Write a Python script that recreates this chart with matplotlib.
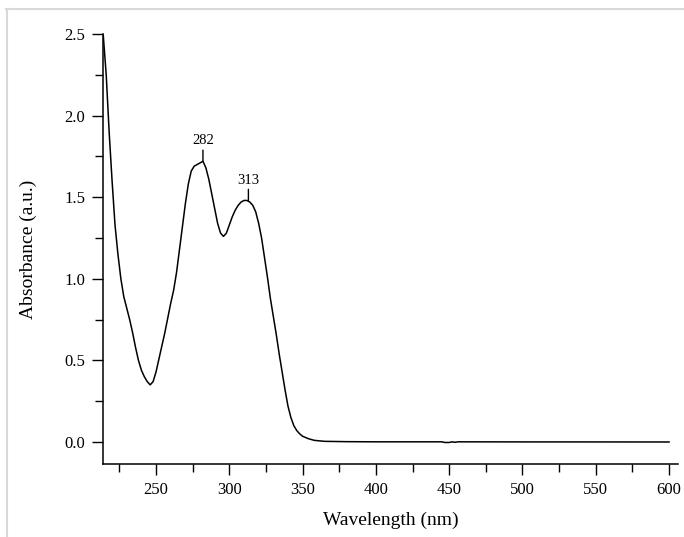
import matplotlib
matplotlib.use("Agg")
import matplotlib.pyplot as plt
from matplotlib.ticker import MultipleLocator, FormatStrFormatter
from matplotlib.lines import Line2D

wavelength = [214, 216, 218, 220, 222, 224, 226, 228, 230, 232, 234, 236, 238, 240,
              242, 244, 246, 248, 250, 252, 254, 256, 258, 260, 262, 264, 266, 268,
              270, 272, 274, 276, 278, 280, 282, 284, 286, 288, 290, 292, 294, 296,
              298, 300, 302, 304, 306, 308, 310, 312, 314, 316, 318, 320, 322, 324,
              326, 328, 330, 332, 334, 336, 338, 340, 342, 344, 346, 348, 350, 354,
              358, 365, 380, 400, 445, 447, 450, 452, 454, 456, 500, 550, 600]
absorbance = [2.49, 2.25, 1.90, 1.60, 1.33, 1.15, 1.00, 0.89, 0.82, 0.75, 0.67, 0.58,
              0.50, 0.44, 0.40, 0.37, 0.35, 0.37, 0.43, 0.51, 0.59, 0.67, 0.76, 0.85,
              0.93, 1.04, 1.18, 1.32, 1.46, 1.58, 1.66, 1.69, 1.70, 1.71, 1.72, 1.68,
              1.61, 1.52, 1.43, 1.34, 1.28, 1.26, 1.28, 1.33, 1.38, 1.42, 1.45, 1.47,
              1.48, 1.48, 1.47, 1.45, 1.41, 1.34, 1.25, 1.13, 1.01, 0.88, 0.77, 0.66,
              0.54, 0.43, 0.32, 0.22, 0.15, 0.10, 0.07, 0.05, 0.035, 0.02, 0.01, 0.004,
              0.002, 0.001, 0.001, -0.003, -0.003, 0.001, -0.002, 0.001, 0.0005, 0.0003,
              0.0]
peak_wl = [282, 313]
peak_abs = [1.72, 1.48]
peak_labels = ["282", "313"]

plt.rcParams['font.family'] = ['Liberation Serif', 'DejaVu Serif']

fig = plt.figure(figsize=(6.84, 5.37), dpi=100)
ax = fig.add_axes([0.151, 0.1359, 0.840, 0.8008])

ax.plot(wavelength, absorbance, color='black', lw=1.1)

for wl, a, lab in zip(peak_wl, peak_abs, peak_labels):
    ax.annotate(lab, xy=(wl, a), xytext=(0, 10), textcoords='offset points',
                ha='center', va='bottom', fontsize=10.5,
                arrowprops=dict(arrowstyle='-', color='black', lw=1.0,
                                shrinkA=0, shrinkB=0))

ax.set_xlim(214, 606)
ax.set_ylim(-0.135, 2.5)
ax.xaxis.set_major_locator(MultipleLocator(50))
ax.xaxis.set_minor_locator(MultipleLocator(25))
ax.yaxis.set_major_locator(MultipleLocator(0.5))
ax.yaxis.set_minor_locator(MultipleLocator(0.25))
ax.yaxis.set_major_formatter(FormatStrFormatter('%.1f'))

for s in ['top', 'right']:
    ax.spines[s].set_visible(False)
for s in ['left', 'bottom']:
    ax.spines[s].set_linewidth(1.1)

ax.tick_params(axis='both', which='major', direction='out', length=8, width=1.0,
               labelsize=12, pad=5)
ax.tick_params(axis='both', which='minor', direction='out', length=5.5, width=1.0)

ax.set_xlabel('Wavelength (nm)', fontsize=14, labelpad=10)
ax.set_ylabel('Absorbance (a.u.)', fontsize=14, labelpad=20)
ax.yaxis.set_label_coords(-0.115, 0.5)

# light gray frame of the image
fig.add_artist(Line2D([6 / 684, 1.0], [1 - 9 / 537, 1 - 9 / 537], color='#d9d9d9',
                      lw=1.5, transform=fig.transFigure))
fig.add_artist(Line2D([7 / 684, 7 / 684], [0, 1 - 9 / 537], color='#d9d9d9',
                      lw=1.5, transform=fig.transFigure))

fig.savefig('out.png', dpi=100)
